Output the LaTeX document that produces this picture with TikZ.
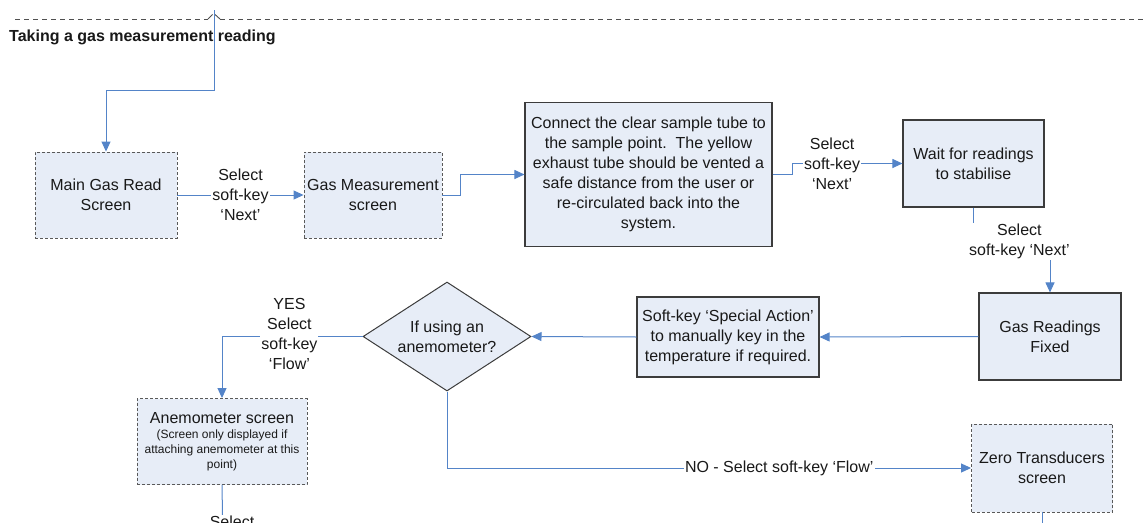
\documentclass[tikz,border=0pt]{standalone}
\usepackage{fontspec}
\setmainfont{Liberation Sans}
\usetikzlibrary{arrows.meta,shapes.geometric}
\definecolor{boxfill}{RGB}{231,237,247}
\definecolor{boxline}{RGB}{60,60,60}
\definecolor{flow}{RGB}{84,132,200}
\definecolor{txt}{RGB}{25,25,25}
\definecolor{rulegray}{RGB}{80,80,80}
\newcommand{\notefont}{\fontsize{12}{15}\selectfont}

\begin{document}
\begin{tikzpicture}[x=1pt,y=-1pt,
  every node/.style={font=\fontsize{16}{20}\selectfont, text=txt},
  screenbox/.style={draw=boxline!85, dash pattern=on 3pt off 2pt, line width=0.9pt,
                    fill=boxfill, align=center, inner sep=2pt},
  actionbox/.style={draw=boxline, line width=1.1pt, fill=boxfill, align=center, inner sep=2pt},
  decision/.style={diamond, draw=boxline, line width=1pt, fill=boxfill, align=center,
                   inner sep=0pt, aspect=1.52},
  link/.style={draw=flow, line width=1pt},
  arrowlink/.style={link, -{Triangle[length=10pt,width=9pt]}},
  tag/.style={fill=white, inner sep=1pt, align=center},
  sectionrule/.style={draw=rulegray, line width=0.9pt},
]
\useasboundingbox (0,0) rectangle (1145,522);
\clip (0,0) rectangle (1145,522);

% section heading and rule
\draw[sectionrule, dash pattern=on 5pt off 4pt] (15,19) -- (208,19);
\draw[sectionrule] (208,19) -- (212.5,14.5) (215,14.5) -- (220,19);
\draw[sectionrule, dash pattern=on 5pt off 4pt] (220,19) -- (1145,19);
\node[anchor=base west, inner sep=0pt, font=\bfseries\fontsize{16}{19}\selectfont]
  (title) at (9,41) {Taking a gas measurement reading};

% steps
\node[screenbox, minimum width=142pt, minimum height=86pt] (main) at (106,195)
  {Main Gas Read\\Screen};
\node[screenbox, minimum width=138pt, minimum height=86pt] (gasm) at (373,195)
  {Gas Measurement\\screen};
\node[actionbox, minimum width=247pt, minimum height=144pt] (conn) at (648.5,174.5)
  {Connect the clear sample tube to\\the sample point.\ \ The yellow\\exhaust tube should be vented a\\safe distance from the user or\\re-circulated back into the\\system.};
\node[actionbox, minimum width=141pt, minimum height=87pt] (wait) at (973.5,163.5)
  {Wait for readings\\to stabilise};
\node[actionbox, minimum width=142pt, minimum height=87pt] (fixed) at (1050,336.5)
  {Gas Readings\\Fixed};
\node[actionbox, minimum width=182pt, minimum height=80pt] (spec) at (728,337)
  {Soft-key ‘Special Action’\\to manually key in the\\temperature if required.};
\node[decision, minimum width=168pt, minimum height=109pt] (ask) at (447,336.5)
  {If using an\\anemometer?};
\node[screenbox, minimum width=170pt, minimum height=86pt, text width=164pt,
      align=flush center] (anemo) at (222,441.5)
  {Anemometer screen\par\vspace{0.5pt}\notefont (Screen only displayed if\\attaching anemometer at this\\point)\par};
\node[screenbox, minimum width=141pt, minimum height=88pt] (zero) at (1042,468)
  {Zero Transducers\\screen};

% connectors
\coordinate (entry) at (214,10);
\draw[arrowlink] (entry) -- (214,90) -| (main.north);
\draw[arrowlink] (main) -- node[tag] {Select\\soft-key\\‘Next’} (gasm);
\draw[arrowlink] (gasm.east) -- ++(18,0) |- (conn.west);
\draw[arrowlink] (conn.east) -- ++(20,0) |- node[pos=0.68, tag] {Select\\soft-key\\‘Next’} (wait.west);
\draw[arrowlink] (wait.south) -- ++(0,34) -| node[pos=0.3, tag] {Select\\soft-key ‘Next’} (fixed.north);
\draw[arrowlink] (fixed.west) -- (spec.east);
\draw[arrowlink] (spec.west) -- (ask.east);
\draw[arrowlink] (ask.west) -| node[pos=0.26, tag, yshift=2.5pt] {YES\\Select\\soft-key\\‘Flow’} (anemo.north);
\draw[arrowlink] (ask.south) |- node[pos=0.817, tag] {NO - Select soft-key ‘Flow’} (zero.west);

\coordinate (anemoout) at (223,545);
\coordinate (zeroout) at (1042,545);
\draw[link] (anemo.south) -- (anemoout);
\node[tag] (anemonext) at (232,522) {Select};
\draw[link] (zero.south) -- (zeroout);
\end{tikzpicture}
\end{document}
